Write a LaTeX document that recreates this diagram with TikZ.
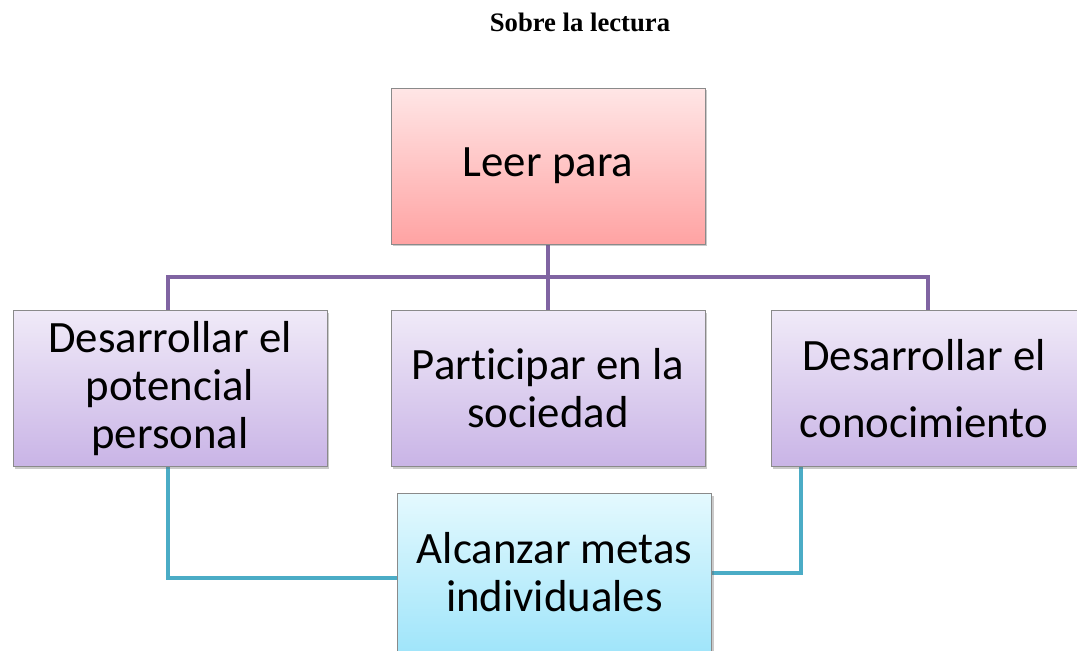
\documentclass[tikz,border=0pt]{standalone}
\usepackage{fontspec}
\setmainfont{Carlito}[Ligatures={NoCommon}]
\newfontfamily\titlefont{Liberation Serif}
\usetikzlibrary{positioning,shadows,calc,backgrounds}

\definecolor{rosaalto}{HTML}{FFE6E6}
\definecolor{rosabajo}{HTML}{FFA3A3}
\definecolor{lilaalto}{HTML}{F0EAF8}
\definecolor{lilabajo}{HTML}{C9B4E6}
\definecolor{celestealto}{HTML}{E4F9FE}
\definecolor{celestebajo}{HTML}{A0E5FA}
\definecolor{lineamorada}{HTML}{8064A2}
\definecolor{lineaceleste}{HTML}{4BACC6}
\definecolor{borde}{HTML}{8A8A8A}

\tikzset{
readbox/.style={draw=borde,minimum width=235.5pt,minimum height=117pt,inner sep=2pt,
  align=center,font=\fontsize{33.6}{36}\selectfont,
  drop shadow={shadow xshift=1.5pt,shadow yshift=-1.5pt,opacity=0.35,fill=black!60}},
rosa/.style={top color=rosaalto,bottom color=rosabajo},
lila/.style={top color=lilaalto,bottom color=lilabajo},
celeste/.style={top color=celestealto,bottom color=celestebajo},
treeline/.style={draw=lineamorada,line width=3pt},
goalline/.style={draw=lineaceleste,line width=3pt}}

\begin{document}
\begin{tikzpicture}[x=0.75pt,y=-0.75pt]
  \useasboundingbox (0,0) rectangle (1077,650);
  \node[font=\titlefont\bfseries\fontsize{20}{24}\selectfont] (titulo) at (580,22) {Sobre la lectura};
  % cajas
  \node[readbox,rosa] (leer) at (548,166) {Leer para};
  \node[readbox,lila] (potencial) at (170,388.5) {Desarrollar el\\potencial\\personal};
  \node[readbox,lila] (sociedad) at (548,388.5) {Participar en la\\sociedad};
  \node[readbox,lila,minimum width=229.5pt,font=\fontsize{33.6}{50}\selectfont] (conocimiento) at (924,388.5) {Desarrollar el\\conocimiento};
  \node[readbox,celeste,minimum height=118.5pt] (metas) at (554.5,572.5) {Alcanzar metas\\individuales};
  \coordinate (barra) at (548,277);
  % conectores
  \begin{scope}[on background layer]
    \draw[treeline] (leer.south) -- (barra);
    \draw[treeline] ([xshift=-1.5pt]potencial.north) -- ([xshift=-1.5pt]potencial.north |- barra)
      -- ([xshift=3pt]conocimiento.north |- barra) -- ([xshift=3pt]conocimiento.north);
    \draw[treeline] (barra) -- (sociedad.north);
    \draw[goalline] ([xshift=-1.5pt]potencial.south) |- ([yshift=-3.75pt]metas.west);
    \draw[goalline] ($(conocimiento.south west)!0.1!(conocimiento.south east)$) |- (metas.east);
  \end{scope}
\end{tikzpicture}
\end{document}
